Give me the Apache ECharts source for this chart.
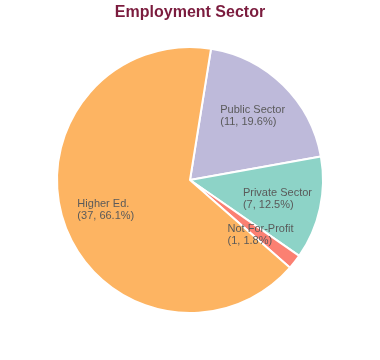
<!DOCTYPE html>
<html><head><meta charset="utf-8">
<script src="https://cdn.jsdelivr.net/npm/echarts@6/dist/echarts.min.js"></script>
<style>html,body{margin:0;padding:0;background:#fff}#c{width:380px;height:360px}</style>
</head><body><div id="c"></div>
<script>
const categories = ['Public Sector', 'Private Sector', 'Not For-Profit', 'Higher Ed.'];
const values = [11, 7, 1, 37];
const colors = ['#bebada', '#8dd3c7', '#fb8072', '#fdb462'];

const data = categories.map((n, i) => ({ name: n, value: values[i], itemStyle: { color: colors[i] } }));
const chart = echarts.init(document.getElementById('c'), null, { renderer: 'canvas' });
chart.setOption({
  animation: false,
  title: {
    text: 'Employment Sector', left: 'center', top: 0,
    textStyle: { color: '#7b1c3e', fontSize: 16, fontWeight: 'bold', fontFamily: 'Liberation Sans, Arial' }
  },
  series: [{
    type: 'pie', center: [190, 180], radius: 133, startAngle: 80.9, clockwise: true,
    percentPrecision: 1,
    data: data,
    itemStyle: { borderColor: '#fff', borderWidth: 2 },
    label: { show: false }, labelLine: { show: false },
    emphasis: { disabled: true }, silent: true
  }, {
    type: 'pie', center: [190, 180], radius: [40, 133], startAngle: 80.9, clockwise: true,
    percentPrecision: 1,
    data: categories.map((n, i) => ({ name: n, value: values[i] })),
    itemStyle: { color: 'rgba(0,0,0,0)', borderWidth: 0 },
    label: {
      show: true, position: 'inside',
      formatter: '{a|{b}}\n{a|({c}, {d}%)}',
      rich: { a: { align: 'left', color: '#5a5a5a', fontSize: 11, fontFamily: 'Liberation Sans, Arial', lineHeight: 12 } }
    },
    labelLine: { show: false },
    emphasis: { disabled: true }, silent: true
  }]
});
</script></body></html>
